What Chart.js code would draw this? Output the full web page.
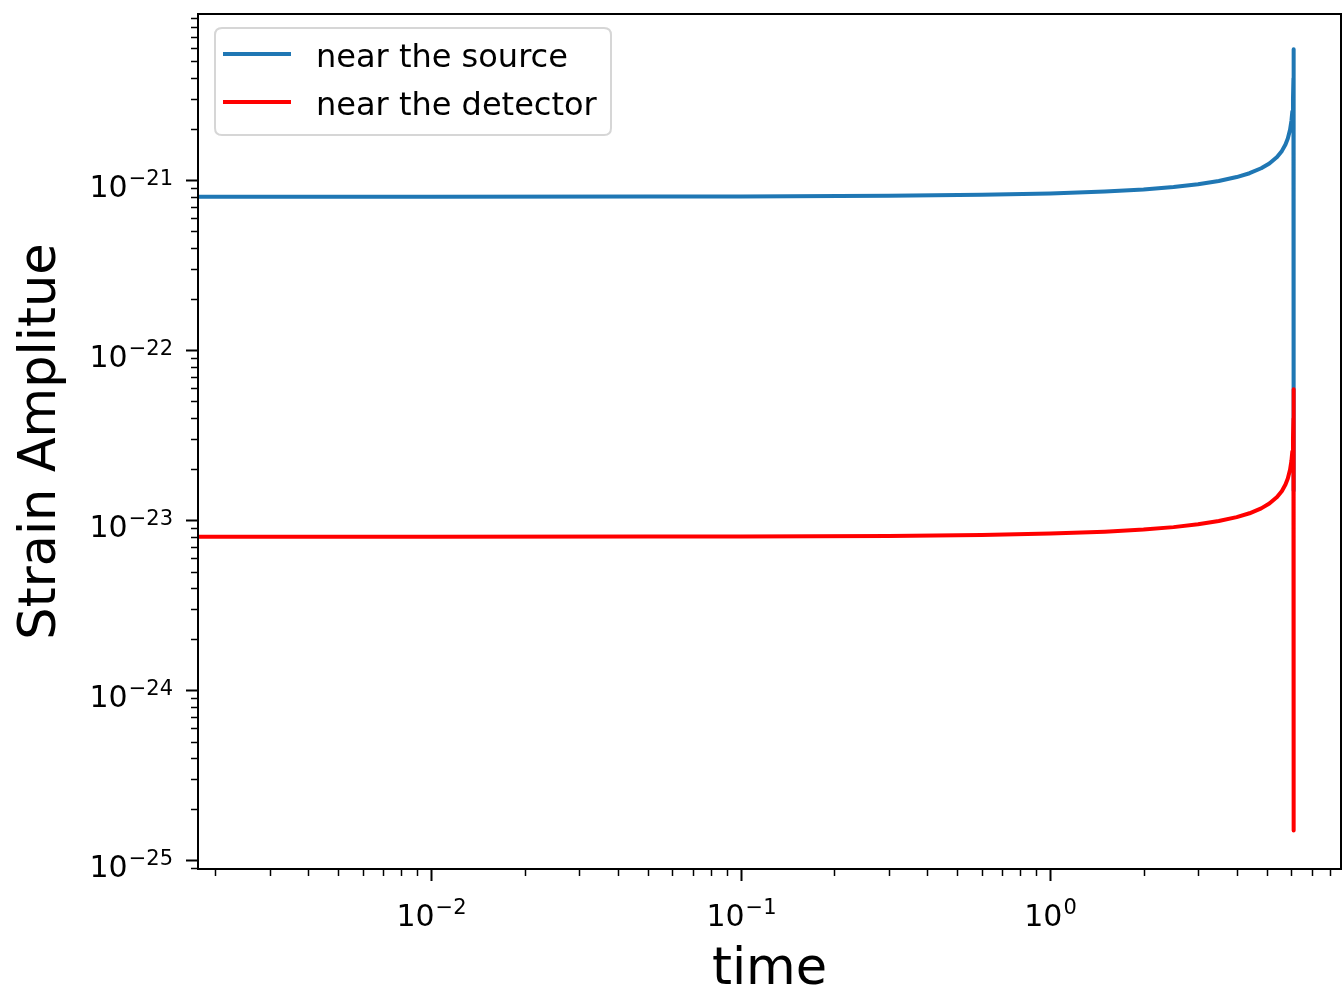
<!DOCTYPE html>
<html>
<head>
<meta charset="utf-8">
<script src="https://cdn.jsdelivr.net/npm/chart.js@4.4.1/dist/chart.umd.min.js"></script>
<style>
html,body{margin:0;padding:0;background:#ffffff;}
#wrap{width:1344px;height:993px;position:relative;}
canvas{display:block;}
</style>
</head>
<body>
<div id="wrap"><canvas id="c" width="1344" height="993"></canvas></div>
<script>
// ---- data ----
const time = [0.0017, 0.01, 0.05, 0.1, 0.3, 0.6, 1.0, 1.5, 2.0, 2.5, 3.0, 3.5, 4.0, 4.4, 4.8, 5.1, 5.4, 5.6, 5.75, 5.85, 5.95, 6.01, 6.05, 6.08, 6.10, 6.11, 6.11];
const sourceStrain = [8.00e-22, 8.00e-22, 8.02e-22, 8.03e-22, 8.10e-22, 8.21e-22, 8.37e-22, 8.58e-22, 8.83e-22, 9.12e-22, 9.47e-22, 9.90e-22, 1.044e-21, 1.100e-21, 1.176e-21, 1.255e-21, 1.370e-21, 1.488e-21, 1.624e-21, 1.761e-21, 1.989e-21, 2.237e-21, 2.54e-21, 3.02e-21, 3.98e-21, 5.9e-21, 1.5e-23];
const detectorStrain = [8.00e-24, 8.00e-24, 8.02e-24, 8.03e-24, 8.10e-24, 8.21e-24, 8.37e-24, 8.58e-24, 8.83e-24, 9.12e-24, 9.47e-24, 9.90e-24, 1.044e-23, 1.100e-23, 1.176e-23, 1.255e-23, 1.370e-23, 1.488e-23, 1.624e-23, 1.761e-23, 1.989e-23, 2.237e-23, 2.54e-23, 3.02e-23, 3.98e-23, 5.9e-23, 1.5e-25];
const seriesLabels = ['near the source', 'near the detector'];
const seriesColors = ['#1f77b4', '#ff0000'];
const xMajorTicks = [0.01, 0.1, 1];
const xTickExponents = ['\u22122', '\u22121', '0'];
const yMajorTicks = [1e-25, 1e-24, 1e-23, 1e-22, 1e-21];
const yTickExponents = ['\u221225', '\u221224', '\u221223', '\u221222', '\u221221'];
const tickBase = '10';
const xRange = [0.001762, 8.69];
const yRange = [8.9e-26, 9.5e-21];

// ---- tick helpers (axis furniture) ----
function buildTicks(majors, min, max) {
  const out = [];
  const bases = [majors[0] / 10].concat(majors);
  bases.forEach(function (b, bi) {
    for (let k = 1; k <= 9; k++) {
      if (k === 1 && bi === 0) continue;
      const v = k * b;
      if (v >= min * 0.9999 && v <= max * 1.0001) {
        const isMajor = (k === 1);
        out.push({ value: v, major: isMajor, majorIndex: isMajor ? bi - 1 : -1 });
      }
    }
  });
  out.sort(function (a, b) { return a.value - b.value; });
  return out;
}

const FONT = "'DejaVu Sans', 'Liberation Sans', sans-serif";

function drawPow(ctx, exp, x, baseline, align) {
  ctx.font = '30px ' + FONT;
  const w1 = ctx.measureText(tickBase).width;
  ctx.font = '21px ' + FONT;
  const w2 = ctx.measureText(exp).width;
  const total = w1 + w2 + 1;
  const x0 = align === 'right' ? x - total : x - total / 2;
  ctx.textAlign = 'left';
  ctx.textBaseline = 'alphabetic';
  ctx.font = '30px ' + FONT;
  ctx.fillText(tickBase, x0, baseline);
  ctx.font = '21px ' + FONT;
  ctx.fillText(exp, x0 + w1 + 1, baseline - 12);
}

const framePlugin = {
  id: 'framePlugin',
  afterDraw(chart) {
    const ctx = chart.ctx;
    const a = chart.chartArea;
    ctx.save();
    ctx.strokeStyle = '#000';
    ctx.fillStyle = '#000';
    const xs = chart.scales.x, ys = chart.scales.y;
    xs.ticks.forEach(function (t) {
      const p = Math.round(xs.getPixelForValue(t.value)) + 0.5;
      ctx.lineWidth = t.major ? 2 : 1.5;
      ctx.beginPath();
      ctx.moveTo(p, a.bottom);
      ctx.lineTo(p, a.bottom + (t.major ? 12 : 7));
      ctx.stroke();
      if (t.major) drawPow(ctx, xTickExponents[t.majorIndex], p, a.bottom + 57, 'center');
    });
    ys.ticks.forEach(function (t) {
      const p = Math.round(ys.getPixelForValue(t.value)) + 0.5;
      ctx.lineWidth = t.major ? 2 : 1.5;
      ctx.beginPath();
      ctx.moveTo(a.left, p);
      ctx.lineTo(a.left - (t.major ? 12 : 7), p);
      ctx.stroke();
      if (t.major) drawPow(ctx, yTickExponents[t.majorIndex], a.left - 25, p + 16, 'right');
    });
    // frame
    ctx.lineWidth = 2;
    ctx.strokeRect(a.left, a.top, a.right - a.left, a.bottom - a.top);

    // legend box inside the plot area (upper left)
    const bx = 215, by = 28, bw = 396, bh = 107, r = 7;
    ctx.beginPath();
    ctx.moveTo(bx + r, by);
    ctx.lineTo(bx + bw - r, by);
    ctx.quadraticCurveTo(bx + bw, by, bx + bw, by + r);
    ctx.lineTo(bx + bw, by + bh - r);
    ctx.quadraticCurveTo(bx + bw, by + bh, bx + bw - r, by + bh);
    ctx.lineTo(bx + r, by + bh);
    ctx.quadraticCurveTo(bx, by + bh, bx, by + bh - r);
    ctx.lineTo(bx, by + r);
    ctx.quadraticCurveTo(bx, by, bx + r, by);
    ctx.closePath();
    ctx.fillStyle = 'rgba(255,255,255,0.8)';
    ctx.fill();
    ctx.strokeStyle = '#d6d6d6';
    ctx.lineWidth = 2;
    ctx.stroke();

    ctx.font = '32px ' + FONT;
    ctx.textAlign = 'left';
    ctx.textBaseline = 'alphabetic';
    chart.data.datasets.forEach(function (ds, i) {
      const ly = 54 + i * 48;
      ctx.strokeStyle = ds.borderColor;
      ctx.lineWidth = 4;
      ctx.beginPath();
      ctx.moveTo(223, ly);
      ctx.lineTo(291, ly);
      ctx.stroke();
      ctx.fillStyle = '#000';
      ctx.fillText(ds.label, 316, ly + 13);
    });
    ctx.restore();
  }
};

const sourcePoints = time.map(function (t, i) { return { x: t, y: sourceStrain[i] }; });
const detectorPoints = time.map(function (t, i) { return { x: t, y: detectorStrain[i] }; });

new Chart(document.getElementById('c'), {
  type: 'scatter',
  data: {
    datasets: [
      { label: seriesLabels[0], data: sourcePoints, showLine: true, borderColor: seriesColors[0], backgroundColor: seriesColors[0], borderWidth: 4, pointRadius: 0, tension: 0, order: 1, borderCapStyle: 'butt', borderJoinStyle: 'round' },
      { label: seriesLabels[1], data: detectorPoints, showLine: true, borderColor: seriesColors[1], backgroundColor: seriesColors[1], borderWidth: 4, pointRadius: 0, tension: 0, order: 0, borderCapStyle: 'butt', borderJoinStyle: 'round' }
    ]
  },
  options: {
    responsive: false,
    animation: false,
    devicePixelRatio: 1,
    layout: { padding: { top: 14, right: 3, left: 0, bottom: 0 } },
    plugins: { legend: { display: false }, tooltip: { enabled: false } },
    scales: {
      x: {
        type: 'logarithmic',
        min: xRange[0], max: xRange[1],
        afterBuildTicks: function (s) { s.ticks = buildTicks(xMajorTicks, xRange[0], xRange[1]); },
        afterFit: function (s) { s.height = 124; s.paddingLeft = 0; s.paddingRight = 0; s.paddingTop = 0; s.paddingBottom = 0; },
        grid: { display: false, drawTicks: false },
        border: { display: false },
        ticks: { display: false, autoSkip: false, maxRotation: 0, minRotation: 0 },
        title: { display: true, text: 'time', color: '#000', font: { family: FONT, size: 51, lineHeight: 1 }, padding: { top: 0, bottom: -3 } }
      },
      y: {
        type: 'logarithmic',
        min: yRange[0], max: yRange[1],
        afterBuildTicks: function (s) { s.ticks = buildTicks(yMajorTicks, yRange[0], yRange[1]); },
        afterFit: function (s) { s.width = 198; s.paddingLeft = 0; s.paddingRight = 0; s.paddingTop = 0; s.paddingBottom = 0; },
        grid: { display: false, drawTicks: false },
        border: { display: false },
        ticks: { display: false, autoSkip: false },
        title: { display: true, text: 'Strain Amplitue', color: '#000', font: { family: FONT, size: 51, lineHeight: 1 }, padding: { top: 16, bottom: 0 } }
      }
    }
  },
  plugins: [framePlugin]
});
</script>
</body>
</html>
